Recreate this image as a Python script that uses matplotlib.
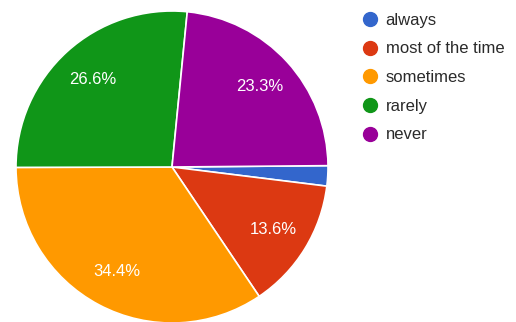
import matplotlib
matplotlib.use("Agg")
import matplotlib.pyplot as plt
from matplotlib.lines import Line2D

labels = ["always", "most of the time", "sometimes", "rarely", "never"]
shares = [2.1, 13.6, 34.4, 26.6, 23.3]
colors = ["#3366cc", "#dc3912", "#ff9900", "#109618", "#990099"]

plt.rcParams["font.family"] = ["Liberation Sans", "DejaVu Sans"]

W, H = 516, 322
fig = plt.figure(figsize=(W / 100, H / 100), dpi=100)
fig.patch.set_facecolor("white")

# pie occupies a square box, centre (172, 167) px from top-left, radius 156 px
cx, cy, r = 172, 167, 156
ax = fig.add_axes([(cx - r) / W, (H - cy - r) / H, 2 * r / W, 2 * r / H])


def pct(v):
    return f"{v:.1f}%" if v >= 5 else ""


wedges, _, autotexts = ax.pie(
    shares, colors=colors, startangle=0.5, counterclock=False,
    radius=1, autopct=pct, pctdistance=0.76,
    wedgeprops=dict(edgecolor="white", linewidth=1.2),
    textprops=dict(color="white", fontsize=12),
)
# pie() pads the limits to +-1.25; pin them so the disc fills the box
ax.set_xlim(-1, 1)
ax.set_ylim(-1, 1)
ax.set_aspect("equal")
ax.axis("off")

handles = [Line2D([], [], marker="o", linestyle="none", markersize=10,
                  markerfacecolor=c, markeredgecolor=c) for c in colors]
leg = fig.legend(handles, labels, loc="upper left",
                 bbox_to_anchor=(353 / W, 1 - 6 / H), frameon=False,
                 fontsize=12, labelspacing=0.82, handletextpad=0.35,
                 handlelength=1.2, borderaxespad=0)
for t in leg.get_texts():
    t.set_color("#2a2a2a")

fig.savefig("out.png", dpi=100, facecolor="white")
